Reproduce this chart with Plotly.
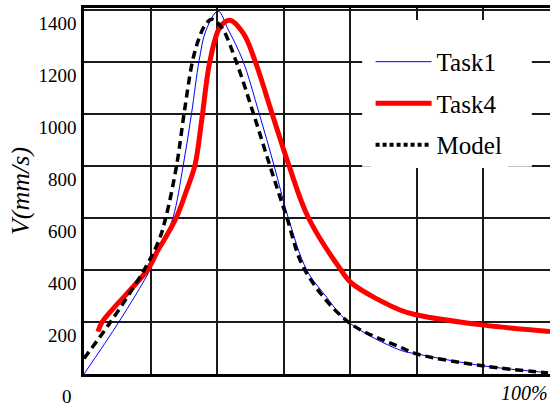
import plotly.graph_objects as go

# Data (x in %, V in mm/s)
task1_x = [0, 7.51, 14.16, 17.17, 19.16, 21.31, 23.1, 24.7, 26.2, 28.76, 31.0, 34.1, 37.55, 40.8, 43.8, 47.8, 51.7, 56.72, 67.81, 71.46, 85.84, 99.57]
task1_v = [0, 201, 400, 515, 605, 804, 1005, 1205, 1323, 1396, 1323, 1205, 1005, 801, 603, 400, 304, 200, 92, 77, 31, 5]

task4_x = [3.0, 3.93, 13.58, 15.88, 17.17, 19.89, 22.04, 23.82, 25.26, 27.04, 29.2, 31.33, 34.2, 36.7, 40.3, 44.0, 48.1, 55.15, 57.45, 67.81, 71.46, 85.84, 100]
task4_v = [163, 201, 400, 477, 515, 605, 708, 804, 977, 1205, 1335, 1361, 1310, 1205, 1005, 801, 603, 400, 349, 246, 227, 188, 163]

model_x = [0, 5.73, 12.88, 16.09, 17.60, 19.89, 21.5, 23.3, 24.7, 25.97, 27.47, 29.61, 32.6, 36.3, 39.9, 43.5, 47.4, 56.72, 67.81, 71.46, 85.84, 99.57]
model_v = [60, 201, 400, 515, 605, 804, 1005, 1205, 1292, 1342, 1365, 1331, 1205, 1005, 801, 603, 400, 200, 104, 77, 31, 4]

y_ticks = [200, 400, 600, 800, 1000, 1200, 1400]
y_title = "V(mm/s)"
x_min_label = "0"
x_max_label = "100%"

FONT = "Liberation Serif"
SM = 1.0

fig = go.Figure()
fig.add_trace(go.Scatter(x=task1_x, y=task1_v, mode="lines", name="Task1",
                         line=dict(color="#0000ff", width=1, shape="spline", smoothing=SM),
                         legendgroup="a"))
fig.add_trace(go.Scatter(x=task4_x, y=task4_v, mode="lines", name="Task4",
                         line=dict(color="#ff0000", width=5, shape="spline", smoothing=SM),
                         legendgroup="b"))
fig.add_trace(go.Scatter(x=model_x, y=model_v, mode="lines", name="Model", showlegend=False,
                         line=dict(color="#000000", width=3.5, dash="8px,5px", shape="spline", smoothing=SM),
                         legendgroup="c"))
fig.add_trace(go.Scatter(x=[None], y=[None], mode="lines", name="Model",
                         line=dict(color="#000000", width=4, dash="4px,3px"),
                         legendgroup="c"))

fig.update_layout(
    width=550, height=406,
    margin=dict(l=84, r=0, t=8, b=32, autoexpand=False),
    paper_bgcolor="white", plot_bgcolor="white",
    font=dict(family=FONT, color="black", size=19),
    showlegend=True,
    legend=dict(x=0.615, y=0.951, xanchor="left", yanchor="top",
                bgcolor="white", borderwidth=0,
                font=dict(family=FONT, size=25, color="black"),
                title=dict(text=" ", font=dict(family=FONT, size=10)),
                itemwidth=56, tracegroupgap=6),
    shapes=[
        # white backdrop of the legend box (hides the grid behind it)
        dict(type="rect", xref="paper", yref="paper", x0=0.597, x1=0.961, y0=0.566, y1=0.967,
             fillcolor="white", line=dict(width=0), layer="above"),
    ],
    xaxis=dict(range=[0, 100], showline=True, linecolor="black", linewidth=2.5, mirror=True,
               tickvals=[0, 100], showticklabels=False, ticks="", showgrid=False, zeroline=False,
               automargin=False,
               minor=dict(dtick=100/7, showgrid=True, gridcolor="#1a1a1a", gridwidth=1.5, ticks="")),
    yaxis=dict(range=[0, 1408], showline=True, linecolor="black", linewidth=2.5, mirror=True,
               tickvals=y_ticks, ticks="", showgrid=True, gridcolor="#1a1a1a", gridwidth=1.5,
               zeroline=False, ticklabelshift=13, ticklabelstandoff=1, automargin=False,
               tickfont=dict(family=FONT, size=19),
               title=dict(text="<i>" + y_title + "</i>", font=dict(family=FONT, size=26), standoff=2)),
    annotations=[
        dict(text=x_min_label, xref="x", x=0, yref="paper", y=0, xanchor="right", yanchor="top",
             xshift=-10, yshift=-10, showarrow=False, font=dict(family=FONT, size=19)),
        dict(text="<i>" + x_max_label + "</i>", xref="x", x=100, yref="paper", y=0, xanchor="right",
             yanchor="top", xshift=0, yshift=-6, showarrow=False, font=dict(family=FONT, size=20)),
    ],
)

fig.write_html("out.html", config={"displayModeBar": False},
               post_script="document.body.style.margin='0';")
